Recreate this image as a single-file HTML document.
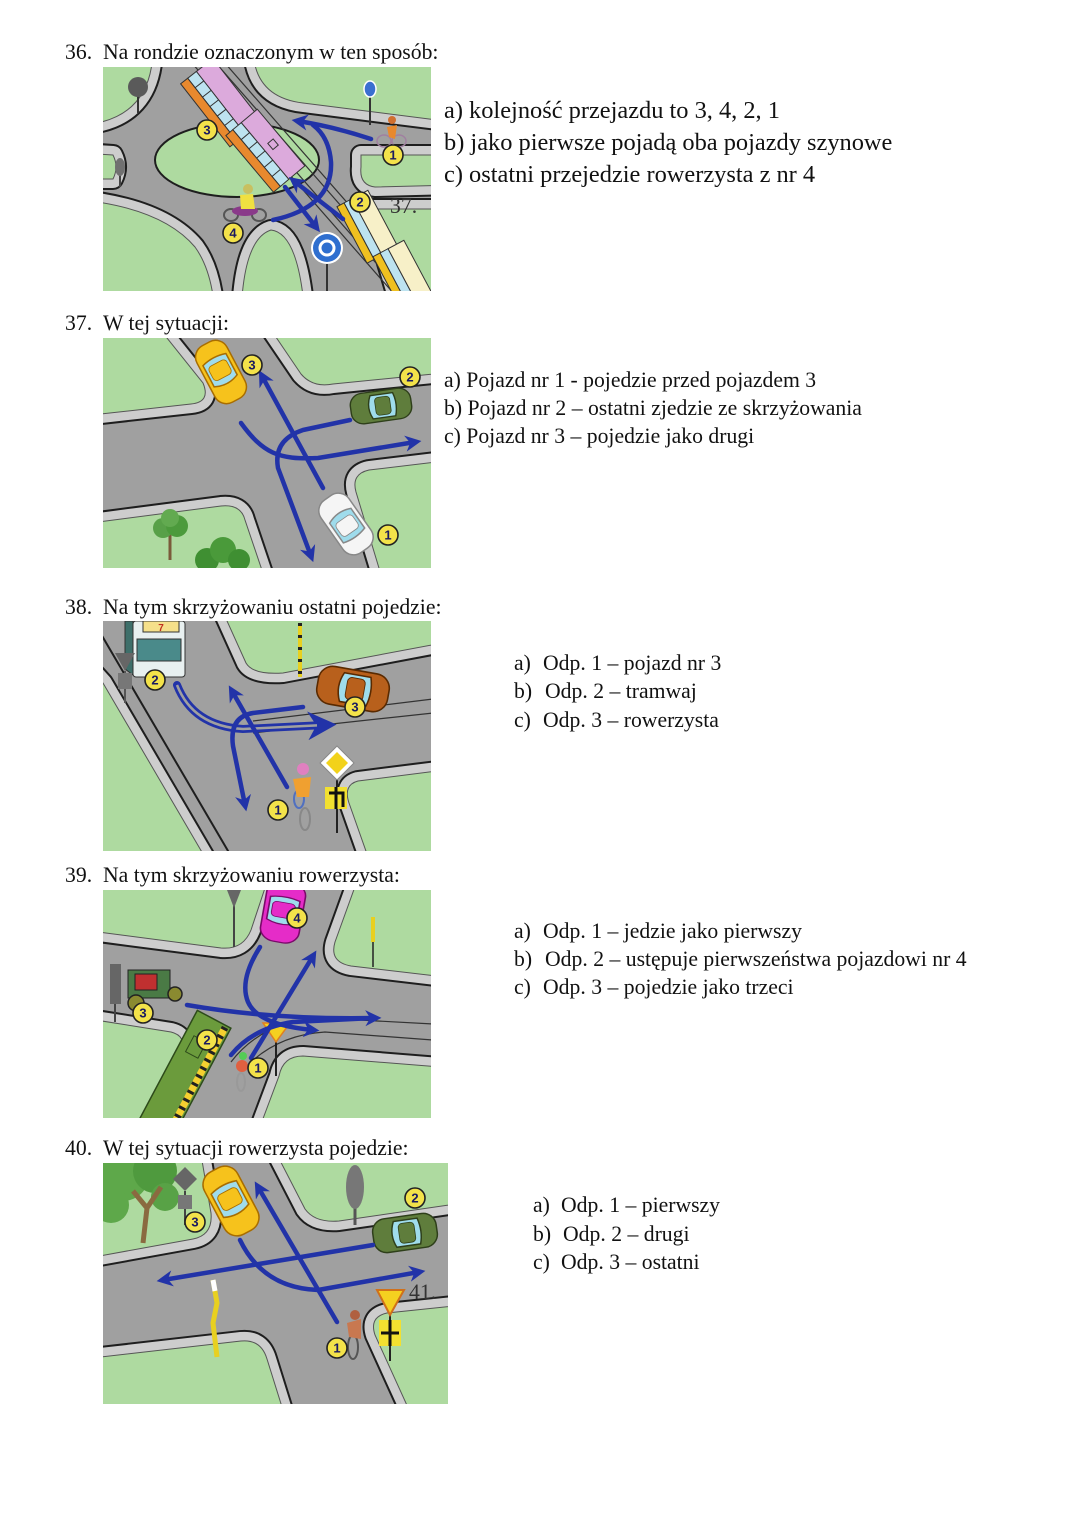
<!DOCTYPE html>
<html>
<head>
<meta charset="utf-8">
<style>
html,body{margin:0;padding:0;background:#fff;}
svg{display:block;}
.t{font-family:"Liberation Serif",serif;font-size:21.7px;fill:#111;}
.tb{font-family:"Liberation Serif",serif;font-size:24.4px;fill:#111;}
.sw1{fill:none;stroke:#1e1e1e;stroke-width:22;stroke-linejoin:round;}
.sw2{fill:none;stroke:#cdcdcd;stroke-width:18;stroke-linejoin:round;}
.gr{fill:#aedaa0;stroke:#555;stroke-width:1;}
.ar{fill:none;stroke:#2233a8;stroke-width:4.5;stroke-linecap:round;stroke-linejoin:round;marker-end:url(#ah);}
.an{fill:none;stroke:#2233a8;stroke-width:4.5;stroke-linecap:round;stroke-linejoin:round;}
.num circle{fill:#f3e24a;stroke:#222;stroke-width:1.6;}
.num text{font-family:"Liberation Sans",sans-serif;font-weight:bold;font-size:13px;fill:#1a1a60;text-anchor:middle;}
.rail{stroke:#333;stroke-width:1.2;fill:none;}
</style>
</head>
<body>
<svg width="1080" height="1528" viewBox="0 0 1080 1528" xmlns="http://www.w3.org/2000/svg">
<defs>
  <marker id="ah" viewBox="0 0 10 10" refX="6" refY="5" markerWidth="3.6" markerHeight="3.6" orient="auto"><path d="M0,0 L10,5 L0,10 L3,5 z" fill="#2233a8"/></marker>
  <clipPath id="c1"><rect width="328" height="224"/></clipPath>
  <clipPath id="c2"><rect width="328" height="230"/></clipPath>
  <clipPath id="c3"><rect width="328" height="230"/></clipPath>
  <clipPath id="c4"><rect width="328" height="228"/></clipPath>
  <clipPath id="c5"><rect width="345" height="241"/></clipPath>

  <path id="p1a" d="M-20,-20 L50,-20 Q50,52 -20,58 Z"/>
  <path id="p1b" d="M150,-20 Q150,30 200,36 L350,55 L350,-20 Z"/>
  <path id="p1c" d="M258,88 L350,88 L350,118 L272,120 Q256,118 258,100 Z"/>
  <path id="p1d" d="M268,142 L350,142 L350,250 L300,250 Z"/>
  <path id="p1e" d="M138,250 Q140,172 168,163 Q196,166 202,250 Z"/>
  <path id="p1f" d="M-20,133 Q60,142 92,180 Q110,205 112,250 L-20,250 Z"/>
  <path id="p1g" d="M-20,86 L10,88 Q16,100 10,112 L-20,112 Z"/>

  <path id="p2a" d="M-20,-20 L48,-20 L100,45 Q108,64 88,66 L-20,78 Z"/>
  <path id="p2b" d="M160,-20 L198,36 Q210,50 230,46 L350,34 L350,-20 Z"/>
  <path id="p2c" d="M-20,186 L118,168 Q138,166 142,182 L165,250 L-20,250 Z"/>
  <path id="p2d" d="M350,122 L266,132 Q248,136 253,154 L282,250 L350,250 Z"/>

  <path id="p3a" d="M115,-20 L143,42 Q150,54 180,52 L350,20 L350,-20 Z"/>
  <path id="p3b" d="M350,148 L255,160 Q240,164 246,182 L270,250 L350,250 Z"/>
  <path id="p3c" d="M-20,40 L0,62 L110,250 L-20,250 Z"/>

  <path id="p4a" d="M-20,-20 L168,-20 L148,40 Q140,60 118,58 L-20,40 Z"/>
  <path id="p4b" d="M258,-20 L232,52 Q226,72 248,76 L350,88 L350,-20 Z"/>
  <path id="p4c" d="M-20,128 L68,142 Q84,146 78,162 L45,250 L-20,250 Z"/>
  <path id="p4d" d="M350,178 L200,166 Q180,166 176,186 L152,250 L350,250 Z"/>

  <path id="p5a" d="M-20,-20 L96,-20 L108,50 Q110,72 90,76 L-20,96 Z"/>
  <path id="p5b" d="M168,-20 L202,46 Q212,60 236,58 L360,40 L360,-20 Z"/>
  <path id="p5c" d="M-20,196 L138,178 Q158,176 164,196 L184,260 L-20,260 Z"/>
  <path id="p5d" d="M360,142 L284,150 Q266,154 272,172 L312,260 L360,260 Z"/>

  <g id="car">
    <rect x="-32" y="-17" width="64" height="34" rx="13"/>
    <path d="M-14,-13 L10,-13 Q16,0 10,13 L-14,13 Q-18,0 -14,-13 Z" fill="#9fdcec"/>
    <rect x="-10" y="-10" width="16" height="20" rx="4" stroke-width="0.8"/>
  </g>
</defs>

<!-- ===== Question 36 ===== -->
<text class="t" x="65" y="59">36.</text>
<text class="t" x="103" y="59">Na rondzie oznaczonym w ten sposób:</text>

<g transform="translate(103,67)" clip-path="url(#c1)">
  <rect width="328" height="224" fill="#a0a0a0"/>
  <use href="#p1a" class="sw1"/><use href="#p1a" class="sw2"/><use href="#p1a" class="gr"/>
  <use href="#p1b" class="sw1"/><use href="#p1b" class="sw2"/><use href="#p1b" class="gr"/>
  <use href="#p1c" class="sw1"/><use href="#p1c" class="sw2"/><use href="#p1c" class="gr"/>
  <use href="#p1d" class="sw1"/><use href="#p1d" class="sw2"/><use href="#p1d" class="gr"/>
  <use href="#p1e" class="sw1"/><use href="#p1e" class="sw2"/><use href="#p1e" class="gr"/>
  <use href="#p1f" class="sw1"/><use href="#p1f" class="sw2"/><use href="#p1f" class="gr"/>
  <use href="#p1g" class="sw1"/><use href="#p1g" class="sw2"/><use href="#p1g" class="gr"/>
  <ellipse cx="134" cy="93" rx="82" ry="37" fill="#aedaa0" stroke="#1e1e1e" stroke-width="2"/>
  <!-- rails -->
  <path class="rail" d="M88,-5 L292,228 M97,-5 L301,228 M112,-5 L316,228 M121,-5 L325,228"/>
  <!-- trees -->
  <line x1="35" y1="28" x2="35" y2="46" stroke="#333" stroke-width="2"/>
  <circle cx="35" cy="20" r="10" fill="#5a5a5a"/>
  <line x1="17" y1="105" x2="17" y2="120" stroke="#444" stroke-width="2"/>
  <ellipse cx="17" cy="100" rx="5" ry="9" fill="#707070"/>
  <!-- purple tram -->
  <g transform="translate(118,36) rotate(52)">
    <rect x="-40" y="-21" width="80" height="21" fill="#dcaadc" stroke="#333"/>
    <rect x="-40" y="0" width="80" height="11" fill="#bde3f0" stroke="#333"/>
    <rect x="-40" y="11" width="80" height="9" fill="#e8892e" stroke="#333"/>
    <path d="M-28,0 V11 M-16,0 V11 M-4,0 V11 M8,0 V11 M20,0 V11 M32,0 V11" stroke="#333"/>
  </g>
  <g transform="translate(162,84) rotate(50)">
    <rect x="-37" y="-21" width="74" height="21" fill="#dcaadc" stroke="#333"/>
    <rect x="-37" y="0" width="74" height="11" fill="#bde3f0" stroke="#333"/>
    <rect x="-37" y="11" width="74" height="9" fill="#e8892e" stroke="#333"/>
    <path d="M-24,0 V11 M-12,0 V11 M0,0 V11 M12,0 V11 M24,0 V11" stroke="#333"/>
    <rect x="-4" y="-14" width="8" height="7" fill="none" stroke="#333"/>
  </g>
  <!-- yellow tram -->
  <g transform="translate(264,160) rotate(62)">
    <rect x="-32" y="-18" width="64" height="18" fill="#f7f0c8" stroke="#333"/>
    <rect x="-32" y="0" width="64" height="9" fill="#bde3f0" stroke="#333"/>
    <rect x="-32" y="9" width="64" height="8" fill="#f0c020" stroke="#333"/>
  </g>
  <g transform="translate(300,210) rotate(62)">
    <rect x="-32" y="-18" width="64" height="18" fill="#f7f0c8" stroke="#333"/>
    <rect x="-32" y="0" width="64" height="9" fill="#bde3f0" stroke="#333"/>
    <rect x="-32" y="9" width="64" height="8" fill="#f0c020" stroke="#333"/>
  </g>
  <!-- cyclist 1 + sign -->
  <line x1="267" y1="30" x2="267" y2="58" stroke="#333" stroke-width="2"/>
  <ellipse cx="267" cy="22" rx="6" ry="8" fill="#3a6fd0" stroke="#fff" stroke-width="1.5"/>
  <ellipse cx="281" cy="74" rx="7" ry="6" fill="none" stroke="#a080a0" stroke-width="1.5"/>
  <ellipse cx="296" cy="74" rx="7" ry="6" fill="none" stroke="#a080a0" stroke-width="1.5"/>
  <path d="M284,60 L294,58 L292,72 L286,70 Z" fill="#e8892e"/>
  <circle cx="289" cy="53" r="4" fill="#d07030"/>
  <!-- motorcyclist 4 -->
  <ellipse cx="128" cy="148" rx="7" ry="6" fill="none" stroke="#555" stroke-width="2"/>
  <ellipse cx="156" cy="148" rx="7" ry="6" fill="none" stroke="#555" stroke-width="2"/>
  <ellipse cx="142" cy="144" rx="13" ry="5" fill="#8a3a8a"/>
  <path d="M137,128 L150,127 L152,142 L138,142 Z" fill="#f0e040"/>
  <circle cx="145" cy="122" r="5" fill="#c8c060"/>
  <!-- roundabout sign -->
  <line x1="224" y1="196" x2="224" y2="224" stroke="#333" stroke-width="2"/>
  <circle cx="224" cy="181" r="16" fill="#fff"/>
  <circle cx="224" cy="181" r="14" fill="#2f6fcf"/>
  <circle cx="224" cy="181" r="7" fill="none" stroke="#fff" stroke-width="3"/>
  <!-- arrows -->
  <path class="ar" d="M268,72 Q232,60 195,54"/>
  <path class="an" d="M170,153 Q230,140 228,95 Q226,70 210,58"/>
  <path class="ar" d="M182,120 L213,160"/>
  <path class="ar" d="M240,152 L191,114"/>
  <!-- numbers -->
  <g class="num" transform="translate(104,63)"><circle r="10"/><text y="4.5">3</text></g>
  <g class="num" transform="translate(257,135)"><circle r="10"/><text y="4.5">2</text></g>
  <g class="num" transform="translate(290,88)"><circle r="10"/><text y="4.5">1</text></g>
  <g class="num" transform="translate(130,166)"><circle r="10"/><text y="4.5">4</text></g>
</g>
<text class="t" x="390" y="213" style="fill:#333">37.</text>

<text class="tb" x="444" y="118">a) kolejność przejazdu to 3, 4, 2, 1</text>
<text class="tb" x="444" y="150">b) jako pierwsze pojadą oba pojazdy szynowe</text>
<text class="tb" x="444" y="182">c) ostatni przejedzie rowerzysta z nr 4</text>

<!-- ===== Question 37 ===== -->
<text class="t" x="65" y="330">37.</text>
<text class="t" x="103" y="330">W tej sytuacji:</text>

<g transform="translate(103,338)" clip-path="url(#c2)">
  <rect width="328" height="230" fill="#a0a0a0"/>
  <use href="#p2a" class="sw1"/><use href="#p2a" class="sw2"/><use href="#p2a" class="gr"/>
  <use href="#p2b" class="sw1"/><use href="#p2b" class="sw2"/><use href="#p2b" class="gr"/>
  <use href="#p2c" class="sw1"/><use href="#p2c" class="sw2"/><use href="#p2c" class="gr"/>
  <use href="#p2d" class="sw1"/><use href="#p2d" class="sw2"/><use href="#p2d" class="gr"/>
  <!-- trees -->
  <line x1="67" y1="196" x2="67" y2="222" stroke="#7a5a3a" stroke-width="3"/>
  <circle cx="60" cy="190" r="10" fill="#58a048"/><circle cx="74" cy="188" r="11" fill="#4c9a3c"/><circle cx="67" cy="180" r="9" fill="#62aa50"/>
  <circle cx="104" cy="222" r="12" fill="#3f8f32"/><circle cx="120" cy="212" r="13" fill="#4a9a3a"/><circle cx="136" cy="222" r="11" fill="#3f8f32"/>
  <!-- cars -->
  <use href="#car" transform="translate(118,34) rotate(62)" fill="#f6c21c" stroke="#a86d00" stroke-width="1.5"/>
  <use href="#car" transform="translate(278,68) rotate(172) scale(0.95,0.9)" fill="#5f7d3c" stroke="#2e3f1a" stroke-width="1.5"/>
  <use href="#car" transform="translate(243,186) rotate(-125)" fill="#f5f5f5" stroke="#888" stroke-width="1.5"/>
  <!-- arrows -->
  <path class="ar" d="M138,85 C160,115 175,122 215,120 L312,104"/>
  <path class="ar" d="M247,82 L200,92 Q170,102 175,130 L208,218"/>
  <path class="ar" d="M220,150 L159,38"/>
  <g class="num" transform="translate(149,27)"><circle r="10"/><text y="4.5">3</text></g>
  <g class="num" transform="translate(307,39)"><circle r="10"/><text y="4.5">2</text></g>
  <g class="num" transform="translate(285,197)"><circle r="10"/><text y="4.5">1</text></g>
</g>

<text class="t" x="444" y="387">a) Pojazd nr 1 - pojedzie przed pojazdem 3</text>
<text class="t" x="444" y="415">b) Pojazd nr 2 – ostatni zjedzie ze skrzyżowania</text>
<text class="t" x="444" y="443">c) Pojazd nr 3 – pojedzie jako drugi</text>

<!-- ===== Question 38 ===== -->
<text class="t" x="65" y="614">38.</text>
<text class="t" x="103" y="614">Na tym skrzyżowaniu ostatni pojedzie:</text>

<g transform="translate(103,621)" clip-path="url(#c3)">
  <rect width="328" height="230" fill="#a0a0a0"/>
  <use href="#p3a" class="sw1"/><use href="#p3a" class="sw2"/><use href="#p3a" class="gr"/>
  <use href="#p3b" class="sw1"/><use href="#p3b" class="sw2"/><use href="#p3b" class="gr"/>
  <use href="#p3c" class="sw1"/><use href="#p3c" class="sw2"/><use href="#p3c" class="gr"/>
  <path d="M-5,8 L128,235" stroke="#1e1e1e" stroke-width="2" fill="none"/>
  <path d="M150,100 Q200,94 330,78 M150,112 Q200,106 330,92" stroke="#333" stroke-width="1.2" fill="none"/>
  <!-- tram -->
  <path d="M22,0 L30,0 L30,54 L22,48 Z" fill="#3e6f6a" stroke="#333"/>
  <rect x="30" y="0" width="52" height="56" rx="3" fill="#e8f0f0" stroke="#333"/>
  <rect x="34" y="18" width="44" height="22" fill="#4a8a8a" stroke="#333"/>
  <rect x="40" y="0" width="36" height="11" fill="#f5e08a" stroke="#333"/>
  <text x="58" y="10" font-family="Liberation Sans,sans-serif" font-size="10" font-weight="bold" fill="#c03020" text-anchor="middle">7</text>
  <!-- gray sign -->
  <line x1="22" y1="50" x2="22" y2="82" stroke="#555" stroke-width="2"/>
  <polygon points="12,32 32,32 22,50" fill="#666"/>
  <rect x="15" y="52" width="14" height="16" fill="#777"/>
  <!-- yellow/black post -->
  <line x1="197" y1="2" x2="197" y2="56" stroke="#e8d020" stroke-width="4"/>
  <line x1="197" y1="2" x2="197" y2="56" stroke="#222" stroke-width="4" stroke-dasharray="3 9"/>
  <!-- brown car -->
  <use href="#car" transform="translate(250,68) rotate(190) scale(1.12)" fill="#b8601c" stroke="#5a2a00" stroke-width="1.4"/>
  <!-- priority sign -->
  <line x1="234" y1="158" x2="234" y2="212" stroke="#222" stroke-width="2"/>
  <polygon points="234,125 251,142 234,159 217,142" fill="#fff" stroke="#888"/>
  <polygon points="234,131 245,142 234,153 223,142" fill="#f2d21a"/>
  <rect x="222" y="166" width="22" height="22" fill="#f2e030"/>
  <path d="M226,172 L240,172 L240,186 M233,166 L233,188" stroke="#111" stroke-width="3" fill="none"/>
  <!-- cyclist -->
  <ellipse cx="202" cy="198" rx="5" ry="11" fill="none" stroke="#888" stroke-width="2"/>
  <ellipse cx="196" cy="178" rx="5" ry="9" fill="none" stroke="#5070c0" stroke-width="2"/>
  <path d="M190,158 L208,156 L206,176 L194,176 Z" fill="#f0a030"/>
  <circle cx="200" cy="148" r="6" fill="#e080c0"/>
  <!-- arrows -->
  <path d="M74,64 Q90,105 140,108 L222,104" fill="none" stroke="#2233a8" stroke-width="8" marker-end="url(#ah)" stroke-linecap="round"/>
  <path d="M74,64 Q90,105 140,108 L214,104.4" fill="none" stroke="#a0a0a0" stroke-width="2.5"/>
  <path class="ar" d="M200,86 L150,92 Q126,96 130,125 L142,184"/>
  <path class="ar" d="M184,166 L129,70"/>
  <g class="num" transform="translate(52,59)"><circle r="10"/><text y="4.5">2</text></g>
  <g class="num" transform="translate(252,86)"><circle r="10"/><text y="4.5">3</text></g>
  <g class="num" transform="translate(175,189)"><circle r="10"/><text y="4.5">1</text></g>
</g>

<text class="t" x="514" y="670">a)</text><text class="t" x="543" y="670">Odp. 1 – pojazd nr 3</text>
<text class="t" x="514" y="698">b)</text><text class="t" x="545" y="698">Odp. 2 – tramwaj</text>
<text class="t" x="514" y="727">c)</text><text class="t" x="543" y="727">Odp. 3 – rowerzysta</text>

<!-- ===== Question 39 ===== -->
<text class="t" x="65" y="882">39.</text>
<text class="t" x="103" y="882">Na tym skrzyżowaniu rowerzysta:</text>

<g transform="translate(103,890)" clip-path="url(#c4)">
  <rect width="328" height="228" fill="#a0a0a0"/>
  <use href="#p4a" class="sw1"/><use href="#p4a" class="sw2"/><use href="#p4a" class="gr"/>
  <use href="#p4b" class="sw1"/><use href="#p4b" class="sw2"/><use href="#p4b" class="gr"/>
  <use href="#p4c" class="sw1"/><use href="#p4c" class="sw2"/><use href="#p4c" class="gr"/>
  <use href="#p4d" class="sw1"/><use href="#p4d" class="sw2"/><use href="#p4d" class="gr"/>
  <path class="rail" d="M128,172 Q160,130 220,128 L330,134 M140,180 Q172,145 222,142 L330,150"/>
  <!-- signs -->
  <line x1="131" y1="15" x2="131" y2="57" stroke="#444" stroke-width="2"/>
  <polygon points="124,0 138,0 131,18" fill="#666"/>
  <line x1="12" y1="110" x2="12" y2="132" stroke="#444" stroke-width="2"/>
  <rect x="7" y="74" width="11" height="40" fill="#666"/>
  <line x1="270" y1="27" x2="270" y2="52" stroke="#e8d020" stroke-width="4"/>
  <line x1="270" y1="52" x2="270" y2="77" stroke="#222" stroke-width="1.5"/>
  <!-- pink car -->
  <use href="#car" transform="translate(180,22) rotate(100) scale(0.95,1.15)" fill="#e52cc8" stroke="#7a0a6a" stroke-width="1.4"/>
  <!-- old car -->
  <rect x="25" y="80" width="42" height="28" fill="#4a7a45" stroke="#222"/>
  <rect x="32" y="84" width="22" height="16" fill="#c03030" stroke="#222"/>
  <circle cx="33" cy="113" r="8" fill="#8a8a30" stroke="#222" stroke-width="1.5"/>
  <circle cx="72" cy="104" r="7" fill="#8a8a30" stroke="#222" stroke-width="1.5"/>
  <!-- tram -->
  <g transform="translate(82,184) rotate(-62)">
    <rect x="-62" y="-19" width="124" height="38" fill="#6b9b3c" stroke="#2d4a1a" stroke-width="1.5"/>
    <rect x="-60" y="10" width="120" height="7" fill="#f5d030"/>
    <line x1="-60" y1="13.5" x2="60" y2="13.5" stroke="#222" stroke-width="7" stroke-dasharray="3 6"/>
    <rect x="20" y="-10" width="18" height="14" fill="none" stroke="#2d4a1a"/>
  </g>
  <!-- cyclist -->
  <ellipse cx="138" cy="192" rx="4" ry="9" fill="none" stroke="#999" stroke-width="2"/>
  <circle cx="139" cy="176" r="6" fill="#e06040"/>
  <circle cx="140" cy="166" r="4" fill="#5c5"/>
  <!-- yield sign -->
  <line x1="173" y1="150" x2="173" y2="186" stroke="#222" stroke-width="2"/>
  <polygon points="160,133 187,133 173,152" fill="#f5d020" stroke="#e08020" stroke-width="1.5"/>
  <!-- arrows -->
  <path class="an" d="M128,165 Q150,138 190,132 L270,128"/>
  <path class="ar" d="M84,115 Q170,130 272,128"/>
  <path class="ar" d="M157,57 Q136,90 145,112 Q155,135 210,140"/>
  <path class="ar" d="M148,168 L210,66"/>
  <g class="num" transform="translate(194,28)"><circle r="10"/><text y="4.5">4</text></g>
  <g class="num" transform="translate(40,123)"><circle r="10"/><text y="4.5">3</text></g>
  <g class="num" transform="translate(104,150)"><circle r="10"/><text y="4.5">2</text></g>
  <g class="num" transform="translate(155,178)"><circle r="10"/><text y="4.5">1</text></g>
</g>

<text class="t" x="514" y="938">a)</text><text class="t" x="543" y="938">Odp. 1 – jedzie jako pierwszy</text>
<text class="t" x="514" y="966">b)</text><text class="t" x="545" y="966">Odp. 2 – ustępuje pierwszeństwa pojazdowi nr 4</text>
<text class="t" x="514" y="994">c)</text><text class="t" x="543" y="994">Odp. 3 – pojedzie jako trzeci</text>

<!-- ===== Question 40 ===== -->
<text class="t" x="65" y="1155">40.</text>
<text class="t" x="103" y="1155">W tej sytuacji rowerzysta pojedzie:</text>

<g transform="translate(103,1163)" clip-path="url(#c5)">
  <rect width="345" height="241" fill="#a0a0a0"/>
  <use href="#p5a" class="sw1"/><use href="#p5a" class="sw2"/><use href="#p5a" class="gr"/>
  <use href="#p5b" class="sw1"/><use href="#p5b" class="sw2"/><use href="#p5b" class="gr"/>
  <use href="#p5c" class="sw1"/><use href="#p5c" class="sw2"/><use href="#p5c" class="gr"/>
  <use href="#p5d" class="sw1"/><use href="#p5d" class="sw2"/><use href="#p5d" class="gr"/>
  <!-- tree -->
  <circle cx="20" cy="12" r="26" fill="#5ea84a"/><circle cx="52" cy="8" r="22" fill="#4f9a3e"/>
  <circle cx="8" cy="42" r="18" fill="#5ea84a"/><circle cx="62" cy="34" r="14" fill="#58a246"/>
  <path d="M40,80 L44,45 L30,28 M44,45 L58,24" stroke="#8a6a40" stroke-width="5" fill="none"/>
  <!-- gray sign -->
  <line x1="82" y1="28" x2="82" y2="62" stroke="#444" stroke-width="2"/>
  <polygon points="82,4 94,16 82,28 70,16" fill="#666"/>
  <rect x="75" y="32" width="14" height="14" fill="#777"/>
  <!-- silhouette -->
  <line x1="252" y1="40" x2="252" y2="62" stroke="#555" stroke-width="3"/>
  <ellipse cx="252" cy="24" rx="9" ry="22" fill="#777"/>
  <!-- cars -->
  <use href="#car" transform="translate(128,38) rotate(62) scale(1.1)" fill="#f6c21c" stroke="#a86d00" stroke-width="1.4"/>
  <use href="#car" transform="translate(302,70) rotate(172)" fill="#5f7d3c" stroke="#2e3f1a" stroke-width="1.5"/>
  <!-- yellow post -->
  <path d="M110,117 L114,140 L110,160 L114,194" stroke="#e8d020" stroke-width="5" fill="none"/>
  <path d="M110,117 L112,128" stroke="#fff" stroke-width="5"/>
  <!-- cyclist -->
  <ellipse cx="250" cy="184" rx="5" ry="12" fill="none" stroke="#555" stroke-width="2"/>
  <path d="M244,160 L258,156 L258,176 L246,174 Z" fill="#c87850"/>
  <circle cx="252" cy="152" r="5" fill="#b06040"/>
  <!-- yield sign + plate -->
  <line x1="287" y1="150" x2="287" y2="198" stroke="#222" stroke-width="2"/>
  <polygon points="274,127 301,127 287,152" fill="#f5d020" stroke="#d0701a" stroke-width="2"/>
  <rect x="276" y="157" width="22" height="26" fill="#f2e030"/>
  <path d="M278,170 L296,170 M287,157 L287,183" stroke="#111" stroke-width="3"/>
  <!-- arrows -->
  <path class="ar" d="M270,82 L60,117"/>
  <path class="ar" d="M137,77 Q160,125 215,127 L316,109"/>
  <path class="ar" d="M234,159 L155,24"/>
  <g class="num" transform="translate(92,59)"><circle r="10"/><text y="4.5">3</text></g>
  <g class="num" transform="translate(312,35)"><circle r="10"/><text y="4.5">2</text></g>
  <g class="num" transform="translate(234,185)"><circle r="10"/><text y="4.5">1</text></g>
</g>
<text class="t" x="409" y="1299" style="fill:#333">41.</text>

<text class="t" x="533" y="1212">a)</text><text class="t" x="561" y="1212">Odp. 1 – pierwszy</text>
<text class="t" x="533" y="1241">b)</text><text class="t" x="563" y="1241">Odp. 2 – drugi</text>
<text class="t" x="533" y="1269">c)</text><text class="t" x="561" y="1269">Odp. 3 – ostatni</text>
</svg>
</body>
</html>
